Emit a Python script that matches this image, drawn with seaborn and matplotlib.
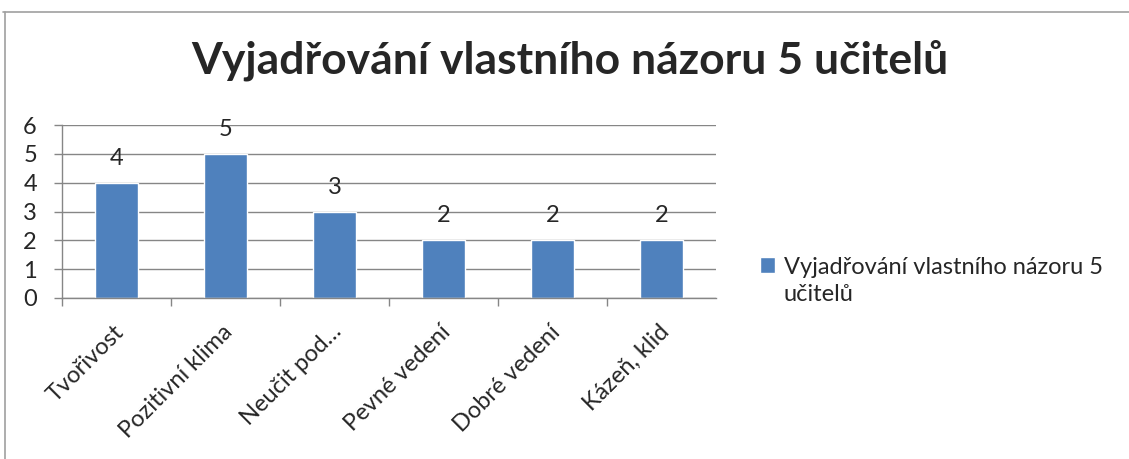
import matplotlib
matplotlib.use("Agg")
import matplotlib.pyplot as plt
import matplotlib.transforms as mtransforms
import seaborn as sns
import numpy as np
from matplotlib.lines import Line2D

# data
categories = ["Tvořivost", "Pozitivní klima", "Neučit pod…", "Pevné vedení", "Dobré vedení", "Kázeň, klid"]
values = [4, 5, 3, 2, 2, 2]
series_name = "Vyjadřování vlastního názoru 5\nučitelů"
title = "Vyjadřování vlastního názoru 5 učitelů"

sns.set_theme(style="white")
plt.rcParams['font.family'] = ['Lato', 'DejaVu Sans']

bar_color = '#4F81BD'
grid_color = '#868686'
fs = 17

fig = plt.figure(figsize=(11.29, 4.59), dpi=100)
ax = fig.add_axes([62 / 1129, 161 / 459, 654 / 1129, 173 / 459])

sns.barplot(x=categories, y=values, color=bar_color, width=0.4,
            saturation=1, label=series_name, ax=ax)

ax.set_ylim(0, 6)
ax.set_xlim(-0.5, len(categories) - 0.5)
ax.set_yticks(range(0, 7))
ax.yaxis.grid(True, color=grid_color, linewidth=1)
ax.set_axisbelow(True)

for side in ['top', 'right']:
    ax.spines[side].set_visible(False)
for side in ['left', 'bottom']:
    ax.spines[side].set_color(grid_color)
    ax.spines[side].set_linewidth(1)

# category ticks sit between the bars, labels under the bars
ax.set_xticks(np.arange(len(categories)) - 0.5, minor=False)
ax.set_xticklabels([])
ax.set_xticks(np.arange(len(categories)), minor=True)
ax.set_xticklabels(categories, minor=True, rotation=45, ha='right', va='center',
                   rotation_mode='anchor', fontsize=fs)
ax.tick_params(axis='x', which='major', bottom=True, length=6, color=grid_color, width=1)
ax.tick_params(axis='x', which='minor', bottom=False, length=0, pad=22)
ax.tick_params(axis='y', left=True, length=6, color=grid_color, width=1, labelsize=fs, pad=12)
ax.set_xlabel("")
ax.set_ylabel("")

# nudge the rotated labels a little to the right
shift = mtransforms.ScaledTranslation(4 / 100, 0, fig.dpi_scale_trans)
for lbl in ax.get_xticklabels(minor=True):
    lbl.set_transform(lbl.get_transform() + shift)

for c in ax.containers:
    ax.bar_label(c, fontsize=fs, padding=10)

fig.suptitle(title, x=0.505, y=1 - 60 / 459, va='center', fontsize=32, fontweight='bold')

leg = ax.legend(loc='center left', bbox_to_anchor=(760 / 1129, 1 - 281 / 459),
                bbox_transform=fig.transFigure, frameon=False, fontsize=fs,
                borderpad=0, borderaxespad=0, handlelength=0.65, handleheight=0.65,
                handletextpad=0.35)
for t in leg.get_texts():
    t.set_linespacing(1.35)
# keep the marker next to the first line, as in the original
h = leg.legend_handles[0]
h.set_y(h.get_y() + 11.5)

# chart-area border (only top and left visible in crop)
fig.add_artist(Line2D([3 / 1129, 1], [1 - 12 / 459, 1 - 12 / 459],
                      transform=fig.transFigure, color='#A0A0A0', linewidth=1.2))
fig.add_artist(Line2D([5 / 1129, 5 / 1129], [0, 1 - 12 / 459],
                      transform=fig.transFigure, color='#A0A0A0', linewidth=1.2))

fig.savefig("out.png", dpi=100, facecolor='white')
